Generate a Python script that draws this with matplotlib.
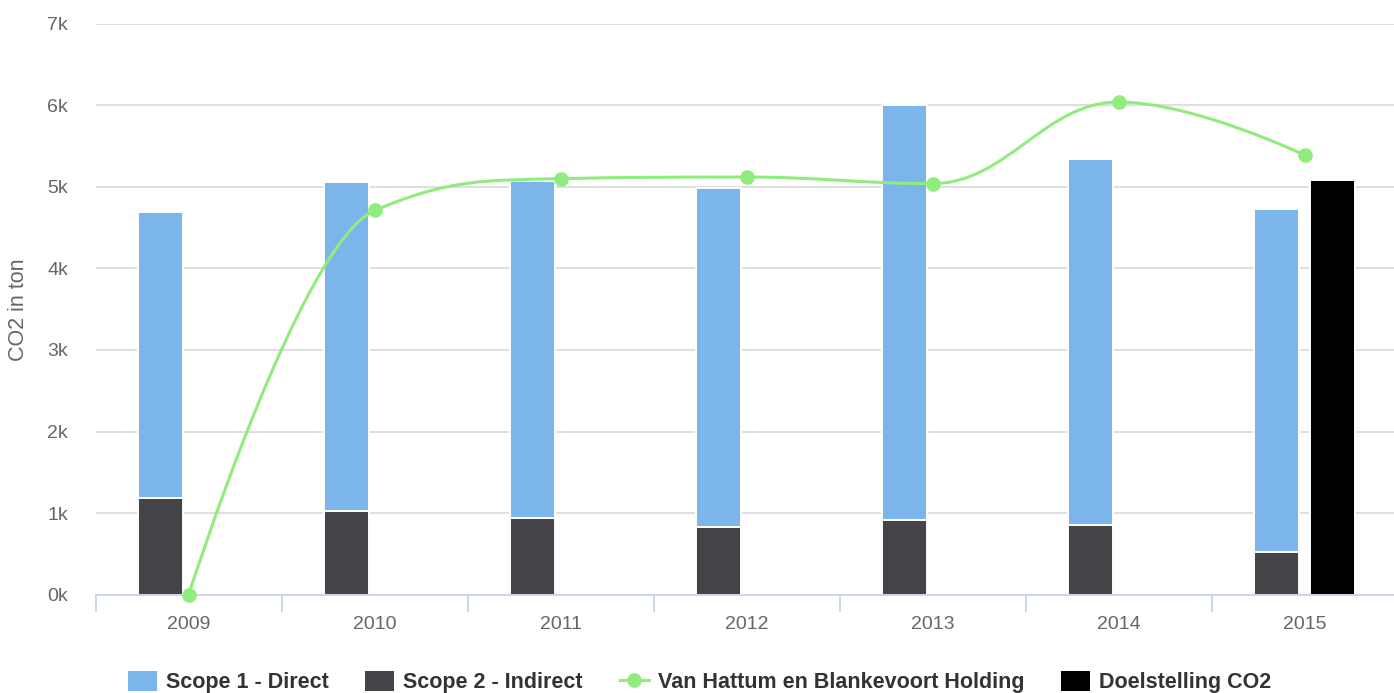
import numpy as np
import matplotlib
matplotlib.use("Agg")
import matplotlib.pyplot as plt
from matplotlib.path import Path
from matplotlib.patches import PathPatch, Patch
from matplotlib.lines import Line2D
from matplotlib.ticker import FuncFormatter, FixedLocator

plt.rcParams["font.family"] = ["Liberation Sans", "DejaVu Sans"]

# CO2 emissions per year (ton)
years = ["2009", "2010", "2011", "2012", "2013", "2014", "2015"]
scope1_direct = [3505, 4030, 4130, 4160, 5085, 4495, 4210]
scope2_indirect = [1185, 1030, 940, 830, 915, 850, 520]
holding_total = [0, 4710, 5100, 5120, 5040, 6040, 5390]
target_year = "2015"
target_value = 5080

series_names = ["Scope 1 - Direct", "Scope 2 - Indirect",
                "Van Hattum en Blankevoort Holding", "Doelstelling CO2"]

C_BLUE = "#7cb5ec"
C_DARK = "#434348"
C_GREEN = "#90ed7d"
C_BLACK = "#000000"
C_TEXT = "#666666"
C_AXIS = "#ccd6eb"
C_GRID = "#d9d9d9"


def spline_path(xs, ys, smoothing=1.5):
    """Cubic spline through the points, same control-point rule as Highcharts."""
    denom = smoothing + 1
    n = len(xs)
    left = [None] * n
    right = [None] * n
    for i in range(1, n - 1):
        px, py = xs[i], ys[i]
        lx, ly = xs[i - 1], ys[i - 1]
        nx, ny = xs[i + 1], ys[i + 1]
        lcx = (smoothing * px + lx) / denom
        lcy = (smoothing * py + ly) / denom
        rcx = (smoothing * px + nx) / denom
        rcy = (smoothing * py + ny) / denom
        corr = 0.0
        if rcx != lcx:
            corr = (rcy - lcy) * (rcx - px) / (rcx - lcx) + py - rcy
        lcy += corr
        rcy += corr
        if lcy > ly and lcy > py:
            lcy = max(ly, py)
            rcy = 2 * py - lcy
        elif lcy < ly and lcy < py:
            lcy = min(ly, py)
            rcy = 2 * py - lcy
        if rcy > ny and rcy > py:
            rcy = max(ny, py)
            lcy = 2 * py - rcy
        elif rcy < ny and rcy < py:
            rcy = min(ny, py)
            lcy = 2 * py - rcy
        left[i] = (lcx, lcy)
        right[i] = (rcx, rcy)
    verts = [(xs[0], ys[0])]
    codes = [Path.MOVETO]
    for i in range(1, n):
        c1 = right[i - 1] if right[i - 1] is not None else (xs[i - 1], ys[i - 1])
        c2 = left[i] if left[i] is not None else (xs[i], ys[i])
        verts += [c1, c2, (xs[i], ys[i])]
        codes += [Path.CURVE4] * 3
    return Path(verts, codes)


W, H = 1394, 693
fig = plt.figure(figsize=(W / 100, H / 100), dpi=100)
ax = fig.add_axes([95.7 / W, 1 - 594.7 / H, (1397.6 - 95.7) / W, (594.7 - 23.7) / H])

x = np.arange(len(years))
bar_w = 0.24
off = 0.15

ax.bar(x - off, scope2_indirect, bar_w, color=C_DARK, edgecolor="white",
       linewidth=1.4, zorder=2)
ax.bar(x - off, scope1_direct, bar_w, bottom=scope2_indirect, color=C_BLUE,
       edgecolor="white", linewidth=1.4, zorder=2)
ti = years.index(target_year)
ax.bar([ti + off], [target_value], bar_w, color=C_BLACK, edgecolor="white",
       linewidth=1.4, zorder=2)

path = spline_path(list(x.astype(float)), [float(v) for v in holding_total])
ax.add_patch(PathPatch(path, facecolor="none", edgecolor=C_GREEN, lw=2.2,
                       zorder=3, capstyle="round", joinstyle="round"))
ax.plot(x, holding_total, "o", color=C_GREEN, ms=9.5, zorder=4, clip_on=False)

ax.set_xlim(-0.5, len(years) - 0.5)
ax.set_ylim(0, 7000)

ax.yaxis.set_major_locator(FixedLocator(np.arange(0, 7001, 1000)))
ax.yaxis.set_major_formatter(FuncFormatter(lambda v, p: f"{int(round(v / 1000))}k"))
ax.tick_params(axis="y", length=0, pad=20, labelsize=14, labelcolor=C_TEXT)
ax.grid(axis="y", color=C_GRID, lw=1.2, zorder=0)
ax.set_axisbelow(True)

ax.set_xticks(x)
ax.set_xticklabels(years)
ax.set_xticks(np.arange(-0.5, len(years)), minor=True)
ax.tick_params(axis="x", which="major", length=0, pad=15.5, labelsize=14,
               labelcolor=C_TEXT)
ax.tick_params(axis="x", which="minor", length=12, width=1.4, color=C_AXIS,
               direction="out")

for s in ["top", "right", "left"]:
    ax.spines[s].set_visible(False)
ax.spines["bottom"].set_color(C_AXIS)
ax.spines["bottom"].set_linewidth(1.4)
ax.spines["bottom"].set_zorder(2.5)

fig.text(19 / W, 1 - 310 / H, "CO2 in ton", rotation=90, ha="center",
         va="center", fontsize=15.5, color=C_TEXT)

handles = [
    Patch(facecolor=C_BLUE, edgecolor="none"),
    Patch(facecolor=C_DARK, edgecolor="none"),
    Line2D([], [], color=C_GREEN, lw=2.2, marker="o", ms=9.5),
    Patch(facecolor=C_BLACK, edgecolor="none"),
]
fs_leg = 15.5
em = fs_leg * 100 / 72
fig.legend(handles, series_names, loc="center",
           bbox_to_anchor=(699.5 / W, 1 - 682 / H), ncol=4, frameon=False,
           prop={"weight": "bold", "size": fs_leg}, labelcolor="#333333",
           handlelength=29 / em, handleheight=22 / em, handletextpad=9 / em,
           columnspacing=37 / em, borderpad=0, borderaxespad=0)

fig.savefig("out.png", dpi=100)
